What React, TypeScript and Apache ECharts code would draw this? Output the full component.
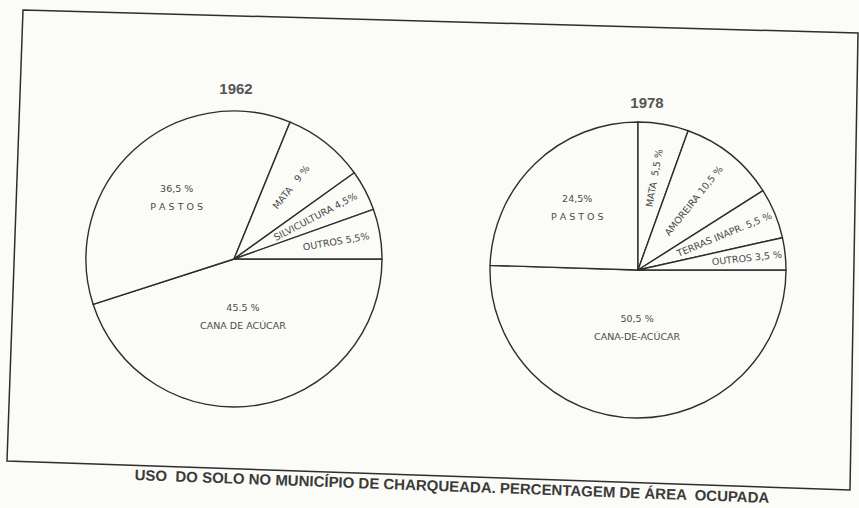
import React, { useEffect, useRef } from 'react';
import * as echarts from 'echarts';

// ---- Data ----
const years = ['1962', '1978'];

const categories1962 = ['CANA DE ACÚCAR', 'PASTOS', 'MATA', 'SILVICULTURA', 'OUTROS'];
const values1962 = [45.5, 36.5, 9, 4.5, 5.5];
const labels1962 = ['45.5 %\nCANA DE ACÚCAR', '36,5 %\nP A S T O S', 'MATA   9 %', 'SILVICULTURA 4,5%', 'OUTROS 5,5%'];

const categories1978 = ['CANA-DE-ACÚCAR', 'PASTOS', 'MATA', 'AMOREIRA', 'TERRAS INAPR.', 'OUTROS'];
const values1978 = [50.5, 24.5, 5.5, 10.5, 5.5, 3.5];
const labels1978 = ['50,5 %\nCANA-DE-ACÚCAR', '24,5%\nP A S T O S', 'MATA  5,5 %', 'AMOREIRA 10,5 %', 'TERRAS INAPR. 5,5 %', 'OUTROS 3,5 %'];

const caption = 'USO  DO SOLO NO MUNICÍPIO DE CHARQUEADA. PERCENTAGEM DE ÁREA  OCUPADA';

// ---- Style / layout ----
const labelRadius1962 = [0.37, 0.55, 0.6, 0.6, 0.68];
const labelRotate1962: (number | string)[] = [0, 0, 'radial', 'radial', 'radial'];
const labelRadius1978 = [0.37, 0.57, 0.61, 0.58, 0.61, 0.72];
const labelRotate1978: (number | string)[] = [0, 0, 'radial', 'radial', 'radial', 'radial'];

const PAPER = '#fbfbf8';
const INK = '#2e2e2e';
const TEXT = '#4a4a4a';
const FONT = '"DejaVu Sans", "Liberation Sans", Arial, sans-serif';
const TITLE_FONT = '"Liberation Sans", Arial, sans-serif';

function buildSeries(
  cats: string[],
  vals: number[],
  labels: string[],
  radii: number[],
  rotates: (number | string)[],
  center: number[],
  r: number
) {
  const base = {
    type: 'pie',
    center,
    startAngle: 0,
    clockwise: true,
    avoidLabelOverlap: false,
    silent: true,
    animation: false,
    emphasis: { disabled: true },
    labelLine: { show: false },
  };
  const main = {
    ...base,
    radius: r,
    z: 2,
    itemStyle: { color: PAPER, borderColor: INK, borderWidth: 1.4 },
    label: { show: false },
    data: cats.map((c, i) => ({ name: c, value: vals[i] })),
  };
  const overlays = cats.map((_, k) => ({
    ...base,
    radius: [0, 2 * radii[k] * r],
    z: 3,
    itemStyle: { color: 'rgba(0,0,0,0)', borderWidth: 0 },
    data: cats.map((c, i) => ({
      name: c,
      value: vals[i],
      label: {
        show: i === k,
        position: 'inside',
        rotate: rotates[k],
        formatter: labels[i],
        color: TEXT,
        fontSize: 9.5,
        fontFamily: FONT,
        lineHeight: 18,
        align: 'center',
      },
    })),
  }));
  return [main, ...overlays];
}

export default function App() {
  const ref = useRef<HTMLDivElement>(null);

  useEffect(() => {
    document.body.style.margin = '0';
    if (!ref.current) return;
    const chart = echarts.init(ref.current, undefined, { renderer: 'svg' });
    const R = 148;
    chart.setOption({
      animation: false,
      backgroundColor: PAPER,
      series: [
        ...buildSeries(categories1962, values1962, labels1962, labelRadius1962, labelRotate1962, [234, 259], R),
        ...buildSeries(categories1978, values1978, labels1978, labelRadius1978, labelRotate1978, [638, 270], R),
      ],
      graphic: [
        {
          type: 'polygon',
          z: 1,
          shape: { points: [[23, 10], [858, 33], [850, 490], [7, 461]] },
          style: { fill: 'none', stroke: INK, lineWidth: 1.5 },
          silent: true,
        },
        {
          type: 'text',
          x: 236,
          y: 88,
          style: { text: years[0], align: 'center', verticalAlign: 'middle', font: `bold 15px ${TITLE_FONT}`, fill: '#555' },
        },
        {
          type: 'text',
          x: 647,
          y: 102,
          style: { text: years[1], align: 'center', verticalAlign: 'middle', font: `bold 15px ${TITLE_FONT}`, fill: '#555' },
        },
        {
          type: 'text',
          x: 452,
          y: 486,
          rotation: -0.036,
          style: {
            text: caption,
            align: 'center',
            verticalAlign: 'middle',
            font: `bold 15px "Liberation Sans Narrow", ${TITLE_FONT}`,
            fill: '#3a3a3a',
          },
        },
      ],
    });
    return () => chart.dispose();
  }, []);

  return <div ref={ref} style={{ width: 859, height: 508 }} />;
}
